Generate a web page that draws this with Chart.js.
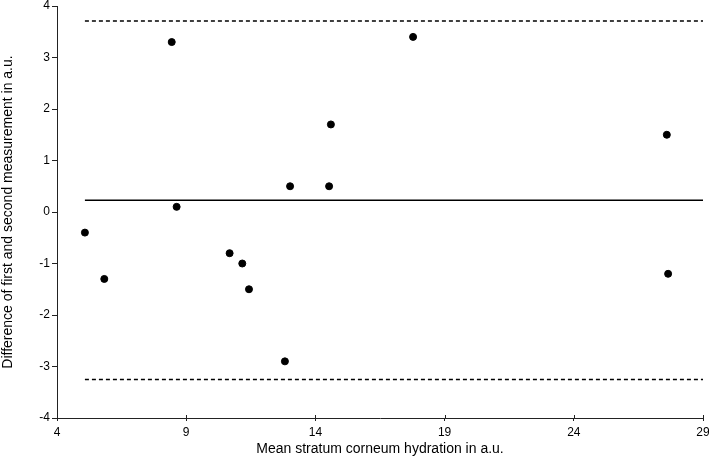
<!DOCTYPE html>
<html><head><meta charset="utf-8">
<script src="https://cdn.jsdelivr.net/npm/chart.js@4"></script>
<style>html,body{margin:0;padding:0;background:#fff}#w{width:709px;height:459px}</style>
</head><body><div id="w"><canvas id="c"></canvas></div>
<script>
const meanX = [5.08, 5.83, 8.44, 8.63, 10.68, 11.17, 11.43, 12.82, 13.02, 14.53, 14.6, 17.78, 27.6, 27.65];
const diffY = [-0.4, -1.3, 3.3, 0.1, -0.8, -1.0, -1.5, -2.9, 0.5, 0.5, 1.7, 3.4, 1.5, -1.2];
const lineX = [5.08, 29];
const meanDiff = 0.23;
const upperLoA = 3.71;
const lowerLoA = -3.25;
const xTicks = [4, 9, 14, 19, 24, 29];
const yTicks = [-4, -3, -2, -1, 0, 1, 2, 3, 4];

const pts = meanX.map((x, i) => ({x: x, y: diffY[i]}));
const hline = v => lineX.map(x => ({x: x, y: v}));
const fam = 'Liberation Sans, Arial, Helvetica, sans-serif';
const tickFont = {family: fam, size: 12};
const titleFont = {family: fam, size: 14};

// small tick marks above the x axis (reference ticks cross the axis)
const crossTicks = {
  id: 'crossTicks',
  afterDraw(chart) {
    const {ctx, scales: {x}, chartArea} = chart;
    ctx.save();
    ctx.strokeStyle = '#222';
    ctx.lineWidth = 1;
    x.ticks.forEach(t => {
      const px = Math.round(x.getPixelForValue(t.value)) + 0.5;
      ctx.beginPath();
      ctx.moveTo(px, chartArea.bottom);
      ctx.lineTo(px, chartArea.bottom - 3);
      ctx.stroke();
    });
    ctx.restore();
  }
};

new Chart(document.getElementById('c'), {
  type: 'scatter',
  data: { datasets: [
    {data: pts, backgroundColor: '#000', borderColor: '#000', pointRadius: 3.5, pointHoverRadius: 3.5},
    {type: 'line', data: hline(meanDiff), borderColor: '#000', borderWidth: 1.5, pointRadius: 0, fill: false},
    {type: 'line', data: hline(upperLoA), borderColor: '#000', borderWidth: 1.5, borderDash: [4, 3], pointRadius: 0, fill: false},
    {type: 'line', data: hline(lowerLoA), borderColor: '#000', borderWidth: 1.5, borderDash: [4, 3], pointRadius: 0, fill: false}
  ]},
  plugins: [crossTicks],
  options: {
    responsive: true, maintainAspectRatio: false, animation: false,
    layout: {padding: {top: 6, right: 6, left: 0, bottom: 0}},
    plugins: {legend: {display: false}, tooltip: {enabled: false}},
    scales: {
      x: {
        type: 'linear', min: 4, max: 29,
        afterBuildTicks: s => { s.ticks = xTicks.map(v => ({value: v})); },
        afterFit: s => { s.height = 41; s.paddingLeft = 0; s.paddingRight = 0; },
        grid: {drawOnChartArea: false, drawTicks: true, tickLength: 3, color: '#222'},
        border: {display: true, color: '#222', width: 1},
        ticks: {color: '#000', font: tickFont, padding: 4, maxRotation: 0},
        title: {display: true, text: 'Mean stratum corneum hydration in a.u.', color: '#000', font: titleFont, padding: {top: 0, bottom: 1}}
      },
      y: {
        type: 'linear', min: -4, max: 4,
        afterBuildTicks: s => { s.ticks = yTicks.map(v => ({value: v})); },
        afterFit: s => { s.width = 57; s.paddingTop = 0; s.paddingBottom = 0; },
        grid: {drawOnChartArea: false, drawTicks: true, tickLength: 5, color: '#222'},
        border: {display: true, color: '#222', width: 1},
        ticks: {color: '#000', font: tickFont, padding: 2},
        title: {display: true, text: 'Difference of first and second measurement in a.u.', color: '#000', font: titleFont, padding: {top: 0, bottom: 0}}
      }
    }
  }
});
</script></body></html>
